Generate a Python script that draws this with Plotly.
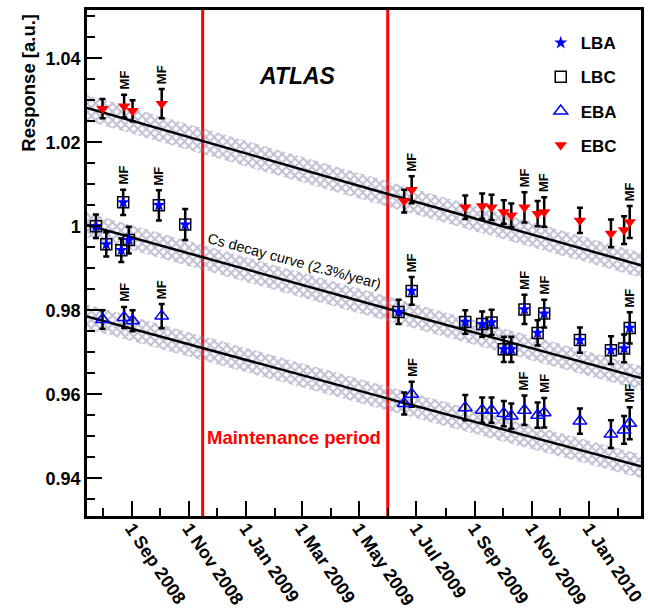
import numpy as np
import pandas as pd
import plotly.graph_objects as go

FONT = "Liberation Sans, Arial, Helvetica, sans-serif"

# ---------------- data ----------------
lbc_dates = ['2008-07-25', '2008-08-05', '2008-08-21', '2008-08-23', '2008-08-29', '2008-09-30',
             '2008-10-28', '2009-06-12', '2009-06-26', '2009-08-22', '2009-09-09', '2009-09-19',
             '2009-10-02', '2009-10-10', '2009-10-24', '2009-11-07', '2009-11-14', '2009-12-22',
             '2010-01-24', '2010-02-07', '2010-02-13']
lbc_values = [1.0000, 0.9957, 0.9943, 1.0057, 0.9967, 1.0050, 1.0004, 0.9796, 0.9846, 0.9772,
              0.9767, 0.9771, 0.9707, 0.9707, 0.9802, 0.9746, 0.9792, 0.9729, 0.9705, 0.9709, 0.9758]
lbc_errors = [0.0028, 0.0029, 0.0028, 0.0030, 0.0032, 0.0036, 0.0037, 0.0029, 0.0033, 0.0028,
              0.0030, 0.0030, 0.0030, 0.0030, 0.0035, 0.0030, 0.0033, 0.0030, 0.0033, 0.0033, 0.0037]
lbc_mf = [3, 5, 8, 14, 16, 20]

# LBA coincides with LBC in the figure
lba_dates = lbc_dates
lba_values = lbc_values

eb_dates = ['2008-08-01', '2008-08-24', '2008-09-02', '2008-10-03', '2009-06-18', '2009-06-26',
            '2009-08-22', '2009-09-09', '2009-09-19', '2009-10-02', '2009-10-10', '2009-10-24',
            '2009-11-07', '2009-11-14', '2009-12-22', '2010-01-24', '2010-02-07', '2010-02-13']
ebc_values = [1.0280, 1.0286, 1.0275, 1.0292, 1.0060, 1.0087, 1.0045, 1.0048, 1.0045, 1.0034,
              1.0026, 1.0045, 1.0030, 1.0034, 1.0014, 0.9983, 0.9991, 1.0010]
ebc_errors = [0.0023, 0.0027, 0.0025, 0.0035, 0.0027, 0.0032, 0.0028, 0.0030, 0.0030, 0.0028,
              0.0028, 0.0036, 0.0030, 0.0035, 0.0030, 0.0033, 0.0033, 0.0038]
ebc_mf = [1, 3, 5, 11, 13, 17]

eba_values = [0.9778, 0.9783, 0.9775, 0.9786, 0.9578, 0.9600, 0.9568, 0.9562, 0.9562, 0.9554,
              0.9548, 0.9562, 0.9550, 0.9556, 0.9536, 0.9505, 0.9515, 0.9531]
eba_errors = [0.0022, 0.0025, 0.0025, 0.0029, 0.0026, 0.0030, 0.0030, 0.0030, 0.0030, 0.0030,
              0.0030, 0.0035, 0.0030, 0.0035, 0.0030, 0.0033, 0.0033, 0.0038]
eba_mf = [1, 3, 5, 11, 13, 17]

# Cs decay curves (amplitude at start of the axis), 2.3 %/year
curve_start = '2008-07-15 12:00'
curve_end = '2010-02-25'
curve_amplitudes = [1.0282, 1.0003, 0.9785]
decay_rate = 0.023
band_fraction = 0.003

maintenance = ['2008-11-15 14:00', '2009-05-31 12:00']

x_tickvals = ['2008-09-01', '2008-11-01', '2009-01-01', '2009-03-01', '2009-05-01',
              '2009-07-01', '2009-09-01', '2009-11-01', '2010-01-01']
x_ticktext = ['1 Sep 2008', '1 Nov 2008', '1 Jan 2009', '1 Mar 2009', '1 May 2009',
              '1 Jul 2009', '1 Sep 2009', '1 Nov 2009', '1 Jan 2010']
x_minor = ['2008-08-01', '2008-10-01', '2008-12-01', '2009-02-01', '2009-04-01',
           '2009-06-01', '2009-08-01', '2009-10-01', '2009-12-01', '2010-02-01']
y_tickvals = [0.94, 0.96, 0.98, 1.00, 1.02, 1.04]
y_ticktext = ['0.94', '0.96', '0.98', '1', '1.02', '1.04']

# ---------------- figure ----------------
fig = go.Figure()

t0 = pd.Timestamp(curve_start)
curve_t = pd.date_range(t0, pd.Timestamp(curve_end), periods=40)
years = np.array([(t - t0).total_seconds() for t in curve_t]) / (365.25 * 86400)

for amp in curve_amplitudes:
    yc = amp * np.exp(-decay_rate * years)
    up = yc * (1 + band_fraction)
    lo = yc * (1 - band_fraction)
    fig.add_trace(go.Scatter(
        x=list(curve_t) + list(curve_t[::-1]),
        y=list(up) + list(lo[::-1]),
        fill='toself', mode='none', showlegend=False, hoverinfo='skip',
        fillcolor='rgba(0,0,0,0)',
        fillpattern=dict(shape='x', fgcolor='#7f7da6', bgcolor='rgba(0,0,0,0)',
                         size=6, solidity=0.55),
    ))
for amp in curve_amplitudes:
    yc = amp * np.exp(-decay_rate * years)
    fig.add_trace(go.Scatter(x=curve_t, y=yc, mode='lines', showlegend=False,
                             line=dict(color='black', width=2.5), hoverinfo='skip'))

err_style = dict(type='data', visible=True, color='black', thickness=2.5, width=3)

fig.add_trace(go.Scatter(
    x=lbc_dates, y=lbc_values, mode='markers', name='LBC', legendgroup='LBC', legendrank=2,
    error_y=dict(array=lbc_errors, **err_style),
    marker=dict(symbol='square-open', size=11, color='black', line=dict(width=1.5, color='black')),
))
fig.add_trace(go.Scatter(
    x=lba_dates, y=lba_values, mode='markers', name='LBA', legendgroup='LBA', legendrank=1,
    marker=dict(symbol='star', size=10, color='#0000ff', line=dict(width=0)),
))
fig.add_trace(go.Scatter(
    x=eb_dates, y=eba_values, mode='markers', name='EBA', legendgroup='EBA', legendrank=3,
    error_y=dict(array=eba_errors, **err_style),
    marker=dict(symbol='triangle-up-open', size=12, color='#0000ff',
                line=dict(width=1.5, color='#0000ff')),
))
fig.add_trace(go.Scatter(
    x=eb_dates, y=ebc_values, mode='markers', name='EBC', legendgroup='EBC', legendrank=4,
    error_y=dict(array=ebc_errors, **err_style),
    marker=dict(symbol='triangle-down', size=11, color='#ff0000', line=dict(width=0)),
))

annotations = []


def add_mf(dates, values, errors, idx):
    for i in idx:
        annotations.append(dict(
            x=dates[i], y=values[i] + errors[i], xref='x', yref='y', text='MF',
            showarrow=False, textangle=-90, yanchor='bottom', xanchor='center', yshift=3,
            font=dict(family=FONT, size=13, color='black', weight='bold')))


add_mf(lbc_dates, lbc_values, lbc_errors, lbc_mf)
add_mf(eb_dates, ebc_values, ebc_errors, ebc_mf)
add_mf(eb_dates, eba_values, eba_errors, eba_mf)

annotations += [
    dict(x='2009-02-24', y=1.0357, xref='x', yref='y', text='<i>ATLAS</i>', showarrow=False,
         font=dict(family=FONT, size=23, color='black', weight='bold')),
    dict(x='2009-02-21', y=0.9918, xref='x', yref='y', text='Cs decay curve (2.3%/year)',
         showarrow=False, textangle=15,
         font=dict(family=FONT, size=14.5, color='black')),
    dict(x='2009-02-21', y=0.9498, xref='x', yref='y', text='Maintenance period',
         showarrow=False, font=dict(family=FONT, size=18.5, color='#ff0000', weight='bold')),
    dict(x=-0.107, y=1.0, xref='paper', yref='paper', text='Response [a.u.]',
         showarrow=False, textangle=-90, xanchor='center', yanchor='top', yshift=-2,
         font=dict(family=FONT, size=18.5, color='black', weight='bold')),
]

shapes = [dict(type='line', xref='x', yref='paper', x0=d, x1=d, y0=0, y1=1,
               line=dict(color='#ff0000', width=3), layer='below') for d in maintenance]

fig.update_layout(
    width=648, height=615,
    margin=dict(l=87, r=7, t=10, b=99, autoexpand=False),
    paper_bgcolor='white', plot_bgcolor='white',
    font=dict(family=FONT, color='black'),
    annotations=annotations, shapes=shapes,
    legend=dict(x=0.819, y=0.97, xanchor='left', yanchor='top',
                bgcolor='rgba(0,0,0,0)', tracegroupgap=9, traceorder='grouped',
                font=dict(family=FONT, size=17, color='black', weight='bold')),
    xaxis=dict(type='date', range=['2008-07-15 12:00', '2010-02-25'], automargin=False,
               tickvals=x_tickvals, ticktext=x_ticktext, tickangle=56,
               ticklabelstandoff=-8,
               ticks='inside', ticklen=15, tickwidth=2, tickcolor='black',
               minor=dict(tickvals=x_minor, ticks='inside', ticklen=8, tickwidth=2,
                          tickcolor='black', showgrid=False),
               showline=True, linewidth=2.5, linecolor='black', mirror=True,
               showgrid=False, zeroline=False,
               tickfont=dict(family=FONT, size=18, color='black', weight='bold')),
    yaxis=dict(range=[0.931, 1.0515], tickvals=y_tickvals, ticktext=y_ticktext, automargin=False,
               ticks='inside', ticklen=15, tickwidth=2, tickcolor='black',
               minor=dict(dtick=0.005, tick0=0.94, ticks='inside', ticklen=8, tickwidth=2,
                          tickcolor='black', showgrid=False),
               showline=True, linewidth=2.5, linecolor='black', mirror=True,
               showgrid=False, zeroline=False,
               tickfont=dict(family=FONT, size=18, color='black', weight='bold')),
)

fig.write_html("out.html", config={'displayModeBar': False},
               post_script="document.body.style.margin='0';")
